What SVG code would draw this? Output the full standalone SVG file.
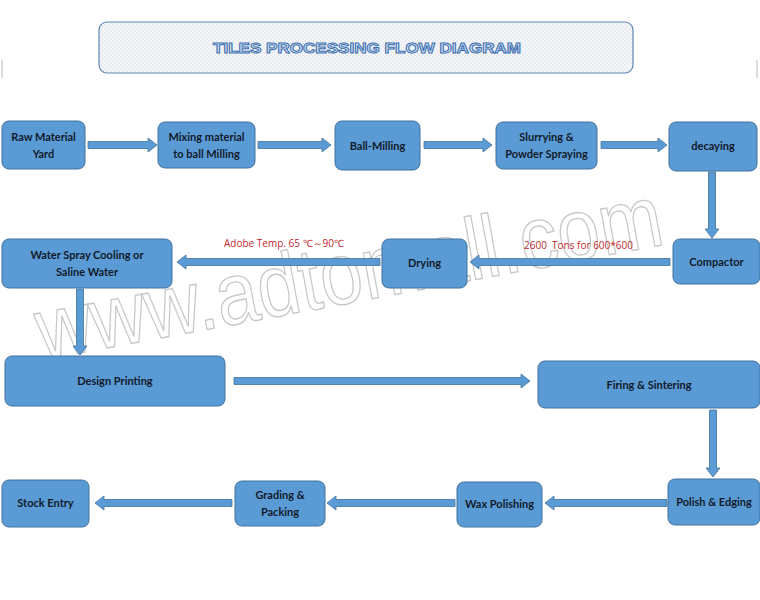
<svg xmlns="http://www.w3.org/2000/svg" width="760" height="600" viewBox="0 0 760 600">
<style>
.box{fill:#5b9bd5;stroke:#41719c;stroke-width:1}
.arr{fill:#5b9bd5;stroke:#41719c;stroke-width:0.8}
.t{font-family:Lato,"Liberation Sans",sans-serif;font-weight:bold;font-size:11px;fill:#111a2a;text-anchor:middle}
.lbl{font-family:"Open Sans","Liberation Sans",sans-serif;font-size:10px;fill:#c0282d;white-space:pre}
</style>
<defs>
<pattern id="dots" width="4" height="4" patternUnits="userSpaceOnUse">
<rect width="4" height="4" fill="#f4f6f9"/>
<circle cx="1" cy="1" r="0.6" fill="#c5ccd4"/>
<circle cx="3" cy="3" r="0.6" fill="#c5ccd4"/>
</pattern>
</defs>
<rect width="760" height="600" fill="#ffffff"/>
<line x1="2" y1="60" x2="2" y2="78" stroke="#bbbbbb" stroke-width="1"/>
<line x1="757" y1="60" x2="757" y2="78" stroke="#bbbbbb" stroke-width="1"/>
<g id="title">
<rect x="99" y="22" width="534" height="51" rx="8" fill="url(#dots)" stroke="#5b86b5" stroke-width="1.2"/>
<text x="367" y="53" font-family="Liberation Sans,Arial,sans-serif" font-weight="bold" font-size="15" fill="#dbe9f7" stroke="#3c6fb0" stroke-width="1" text-anchor="middle" textLength="308" lengthAdjust="spacingAndGlyphs">TILES PROCESSING FLOW DIAGRAM</text>
</g>
<g id="watermark"><text x="42" y="360" transform="rotate(-10.5 42 360)" font-family="Liberation Sans,Arial,sans-serif" font-size="88" fill="none" stroke="#c8c8c8" stroke-width="1.4" textLength="635" lengthAdjust="spacingAndGlyphs">www.adtomall.com</text></g>
<g id="connectors">
<polygon class="arr" points="88,141.5 148,141.5 148,138 157,145 148,152 148,148.5 88,148.5"/>
<polygon class="arr" points="258,141.5 322,141.5 322,138 331,145 322,152 322,148.5 258,148.5"/>
<polygon class="arr" points="424,141.5 483,141.5 483,138 492,145 483,152 483,148.5 424,148.5"/>
<polygon class="arr" points="601,141.5 658,141.5 658,138 667,145 658,152 658,148.5 601,148.5"/>
<polygon class="arr" points="708.5,172 708.5,229 705,229 712,238 719,229 715.5,229 715.5,172"/>
<polygon class="arr" points="670,258.5 479,258.5 479,255 470,262 479,269 479,265.5 670,265.5"/>
<polygon class="arr" points="380,258.5 186,258.5 186,255 177,262 186,269 186,265.5 380,265.5"/>
<polygon class="arr" points="76.5,289 76.5,346 73,346 80,355 87,346 83.5,346 83.5,289"/>
<polygon class="arr" points="234,377.5 521,377.5 521,374 530,381 521,388 521,384.5 234,384.5"/>
<polygon class="arr" points="709.5,410 709.5,468 706,468 713,477 720,468 716.5,468 716.5,410"/>
<polygon class="arr" points="667,499.5 554,499.5 554,496 545,503 554,510 554,506.5 667,506.5"/>
<polygon class="arr" points="455,499.5 336,499.5 336,496 327,503 336,510 336,506.5 455,506.5"/>
<polygon class="arr" points="232,499.5 104,499.5 104,496 95,503 104,510 104,506.5 232,506.5"/>
<text class="lbl" x="224" y="247">Adobe Temp. 65 ℃～90℃</text>
<text class="lbl" x="524" y="249" xml:space="preserve">2600  Tons for 600*600</text>
</g>
<g id="raw"><rect class="box" x="2" y="121" width="83" height="48" rx="7"/><text class="t" x="43.5" y="141">Raw Material</text><text class="t" x="43.5" y="158">Yard</text></g>
<g id="mixing"><rect class="box" x="158" y="122" width="97" height="46" rx="7"/><text class="t" x="206.5" y="141">Mixing material</text><text class="t" x="206.5" y="158">to ball Milling</text></g>
<g id="ballmilling"><rect class="box" x="335" y="121" width="85" height="49" rx="7"/><text class="t" x="377.5" y="150">Ball-Milling</text></g>
<g id="slurrying"><rect class="box" x="496" y="122" width="101" height="47" rx="7"/><text class="t" x="546.5" y="141">Slurrying &amp;</text><text class="t" x="546.5" y="158">Powder Spraying</text></g>
<g id="decaying"><rect class="box" x="669" y="122" width="88" height="49" rx="7"/><text class="t" x="713" y="150">decaying</text></g>
<g id="compactor"><rect class="box" x="673" y="239" width="87" height="45" rx="7"/><text class="t" x="716.5" y="266">Compactor</text></g>
<g id="drying"><rect class="box" x="382" y="239" width="85" height="49" rx="7"/><text class="t" x="424.5" y="267">Drying</text></g>
<g id="waterspray"><rect class="box" x="2" y="239" width="170" height="49" rx="7"/><text class="t" x="87" y="259">Water Spray Cooling or</text><text class="t" x="87" y="276">Saline Water</text></g>
<g id="design"><rect class="box" x="5" y="356" width="220" height="50" rx="7"/><text class="t" x="115" y="385">Design Printing</text></g>
<g id="firing"><rect class="box" x="538" y="361" width="222" height="47" rx="7"/><text class="t" x="649" y="389">Firing &amp; Sintering</text></g>
<g id="polish"><rect class="box" x="668" y="479" width="92" height="46" rx="7"/><text class="t" x="714" y="506">Polish &amp; Edging</text></g>
<g id="wax"><rect class="box" x="457" y="482" width="85" height="45" rx="7"/><text class="t" x="499.5" y="508">Wax Polishing</text></g>
<g id="grading"><rect class="box" x="235" y="481" width="90" height="45" rx="7"/><text class="t" x="280" y="499">Grading &amp;</text><text class="t" x="280" y="516">Packing</text></g>
<g id="stock"><rect class="box" x="2" y="480" width="87" height="47" rx="7"/><text class="t" x="45.5" y="507">Stock Entry</text></g>
</svg>
